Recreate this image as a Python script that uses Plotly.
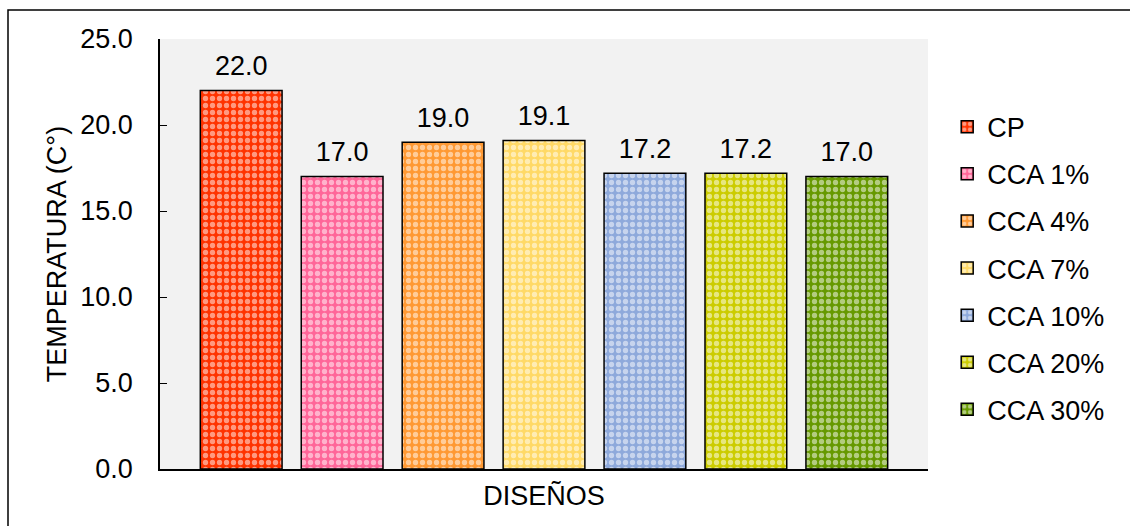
import plotly.graph_objects as go

# Temperature of each mix design
series_names = ["CP", "CCA 1%", "CCA 4%", "CCA 7%", "CCA 10%", "CCA 20%", "CCA 30%"]
temperatures = [22.0, 17.0, 19.0, 19.1, 17.2, 17.2, 17.0]
bar_colors = ["#FF3300", "#FF6699", "#FF9933", "#FFD966", "#8EA9DB", "#CCCC00", "#669900"]
category = [""]

W, H = 1130, 526
ml, mr, mt, mb = 160, 202, 39, 57
FS = 27

fig = go.Figure()
for name, val, col in zip(series_names, temperatures, bar_colors):
    fig.add_trace(go.Bar(
        x=category, y=[val], name=name, legendgroup=name, offsetgroup=name,
        marker=dict(
            color=col,
            line=dict(color="#000000", width=1.5),
            pattern=dict(shape=".", fgcolor="#FFFFFF", bgcolor=col,
                         size=7, solidity=0.45, fillmode="overlay"),
        ),
        hoverinfo="name+y",
    ))

# value labels above each bar
for name, val in zip(series_names, temperatures):
    fig.add_trace(go.Scatter(
        x=category, y=[val], mode="markers+text", offsetgroup=name,
        marker=dict(size=12, opacity=0),
        text=[f"{val:.1f}"], textposition="top center",
        textfont=dict(size=FS, color="#000000", family="Liberation Sans, Arial"),
        showlegend=False, hoverinfo="skip", cliponaxis=False,
    ))

pw = W - ml - mr
ph = H - mt - mb
fig.add_shape(type="rect", xref="paper", yref="paper",
              x0=(8 - ml) / pw, x1=(W + 5 - ml) / pw,
              y0=-(H + 5 - mt - ph) / ph, y1=1 + (mt - 10) / ph,
              line=dict(color="#000000", width=1.5), layer="below")

fig.update_layout(
    width=W, height=H,
    margin=dict(l=ml, r=mr, t=mt, b=mb),
    paper_bgcolor="#FFFFFF", plot_bgcolor="#F2F2F2",
    font=dict(family="Liberation Sans, Arial", size=FS, color="#000000"),
    barmode="group", bargap=0.08, bargroupgap=0.19,
    scattermode="group", scattergap=0.08,
    showlegend=True,
    legend=dict(x=1.025, y=0.467, xanchor="left", yanchor="middle",
                font=dict(size=FS), tracegroupgap=9, itemwidth=30,
                bgcolor="rgba(0,0,0,0)"),
    xaxis=dict(showline=True, linecolor="#000000", linewidth=1.5,
               ticks="", showticklabels=False, showgrid=False,
               title=dict(text="DISEÑOS", font=dict(size=FS), standoff=16)),
    yaxis=dict(range=[0, 25], dtick=5, tickformat=".1f",
               showline=True, linecolor="#000000", linewidth=1.5,
               ticks="inside", ticklen=7, tickcolor="#000000",
               ticklabelstandoff=20,
               showgrid=False, zeroline=False,
               tickfont=dict(size=FS),
               title=dict(text="TEMPERATURA (C°)", font=dict(size=FS), standoff=6)),
)

fig.write_html("out.html")
